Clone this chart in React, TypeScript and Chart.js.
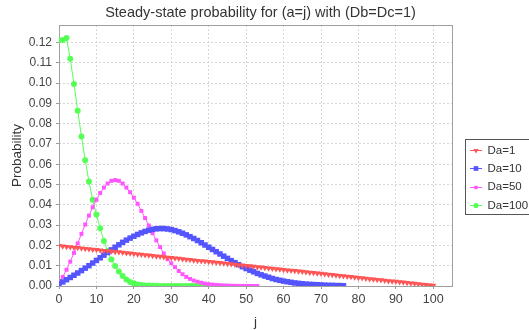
import React, { useEffect, useRef } from "react";
import { Chart, registerables } from "chart.js";

Chart.register(...registerables);

const TITLE = "Steady-state probability for (a=j) with (Db=Dc=1)";
const X_LABEL = "j";
const Y_LABEL = "Probability";
const SERIES_LABELS = ["Da=1", "Da=10", "Da=50", "Da=100"];
const SERIES_COLORS = ["#ff5555", "#5555ff", "#ff55ff", "#55ff55"];
const X_TICKS = [0, 10, 20, 30, 40, 50, 60, 70, 80, 90, 100];
const Y_TICKS = [0, 0.01, 0.02, 0.03, 0.04, 0.05, 0.06, 0.07, 0.08, 0.09, 0.1, 0.11, 0.12];

// Da=1 (j = 0..100)
const da1 = [
  0.0198, 0.0196, 0.0194, 0.0192, 0.019, 0.0188, 0.0186, 0.0184, 0.0182, 0.018,
  0.0178, 0.0176, 0.0174, 0.0173, 0.0171, 0.0169, 0.0167, 0.0165, 0.0163, 0.0161,
  0.0159, 0.0157, 0.0155, 0.0153, 0.0151, 0.0149, 0.0147, 0.0145, 0.0143, 0.0141,
  0.0139, 0.0137, 0.0135, 0.0133, 0.0131, 0.0129, 0.0127, 0.0125, 0.0123, 0.0122,
  0.012, 0.0118, 0.0116, 0.0114, 0.0112, 0.011, 0.0108, 0.0106, 0.0104, 0.0102,
  0.01, 0.0098, 0.0096, 0.0094, 0.0092, 0.009, 0.0088, 0.0086, 0.0084, 0.0082,
  0.008, 0.0078, 0.0076, 0.0075, 0.0073, 0.0071, 0.0069, 0.0067, 0.0065, 0.0063,
  0.0061, 0.0059, 0.0057, 0.0055, 0.0053, 0.0051, 0.0049, 0.0047, 0.0045, 0.0043,
  0.0041, 0.0039, 0.0037, 0.0035, 0.0033, 0.0031, 0.0029, 0.0027, 0.0025, 0.0024,
  0.0022, 0.002, 0.0018, 0.0016, 0.0014, 0.0012, 0.001, 0.0008, 0.0006, 0.0004,
  0.0002,
];

// Da=10 (j = 0..76)
const da10 = [
  0.001, 0.002, 0.0031, 0.0042, 0.0053, 0.0064, 0.0076, 0.0088, 0.01, 0.0113,
  0.0126, 0.0139, 0.0152, 0.0165, 0.0178, 0.0191, 0.0203, 0.0215, 0.0226, 0.0236,
  0.0245, 0.0254, 0.0262, 0.0269, 0.0275, 0.0279, 0.0282, 0.0283, 0.0283, 0.0281,
  0.0278, 0.0273, 0.0267, 0.026, 0.0252, 0.0243, 0.0234, 0.0224, 0.0213, 0.0202,
  0.0191, 0.018, 0.0169, 0.0158, 0.0147, 0.0136, 0.0125, 0.0115, 0.0105, 0.0095,
  0.0086, 0.0078, 0.007, 0.0062, 0.0055, 0.0049, 0.0043, 0.0037, 0.0032, 0.0028,
  0.0024, 0.0021, 0.0018, 0.0015, 0.0013, 0.0011, 0.0009, 0.0008, 0.0007, 0.0006,
  0.0005, 0.0004, 0.0003, 0.0003, 0.0002, 0.0002, 0.0001,
];

// Da=50 (j = 0..53)
const da50 = [
  0.002, 0.0045, 0.008, 0.012, 0.0163, 0.021, 0.0257, 0.0303, 0.0347, 0.0388,
  0.0425, 0.0458, 0.0485, 0.0505, 0.0518, 0.0522, 0.0518, 0.0505, 0.0485, 0.0462,
  0.0435, 0.0405, 0.037, 0.0335, 0.0298, 0.026, 0.0225, 0.0192, 0.016, 0.0132,
  0.0112, 0.0093, 0.0074, 0.0058, 0.0045, 0.0035, 0.0027, 0.0021, 0.0016, 0.0012,
  0.0009, 0.0007, 0.0005, 0.0004, 0.0003, 0.0002, 0.00015, 0.0001, 0.00008, 0.00006,
  0.00004, 0.00003, 0.00002, 0.00001,
];

// Da=100 (j = 0..39)
const da100 = [
  0.1212, 0.1212, 0.1222, 0.112, 0.0995, 0.0863, 0.0737, 0.062, 0.0515, 0.0425,
  0.0352, 0.0284, 0.0222, 0.0172, 0.013, 0.0098, 0.0071, 0.0049, 0.0032, 0.002,
  0.0013, 0.0008, 0.0005, 0.0003, 0.0002, 0.00012, 0.00008, 0.00005, 0.00003, 0.00002,
  0.00001, 0.00001, 0.00001, 0.00001, 0.00001, 0.00001, 0.00001, 0.00001, 0.00001, 0.00001,
];

const SERIES = [da1, da10, da50, da100];
const POINT_STYLES: any[] = ["triangle", "rect", "rect", "circle"];
const POINT_RADII = [3.5, 3.9, 2.8, 3];
const POINT_ROT = [180, 0, 0, 0];

const FONT = "'Liberation Sans', Arial, sans-serif";

function drawMarker(ctx: CanvasRenderingContext2D, style: string, x: number, y: number, r: number, rot: number) {
  ctx.beginPath();
  if (style === "circle") {
    ctx.arc(x, y, r, 0, Math.PI * 2);
  } else if (style === "rect") {
    const s = Math.SQRT1_2 * r;
    ctx.rect(x - s, y - s, 2 * s, 2 * s);
  } else if (style === "triangle") {
    const rad = (rot * Math.PI) / 180;
    for (let k = 0; k < 3; k++) {
      const ang = rad - Math.PI / 2 + (k * 2 * Math.PI) / 3;
      const px = x + Math.cos(ang) * r;
      const py = y + Math.sin(ang) * r;
      if (k === 0) ctx.moveTo(px, py);
      else ctx.lineTo(px, py);
    }
    ctx.closePath();
  }
  ctx.fill();
}

const framePlugin = {
  id: "frame",
  beforeDatasetsDraw(chart: any) {
    const { ctx, chartArea: a } = chart;
    ctx.save();
    ctx.strokeStyle = "#a0a0a0";
    ctx.lineWidth = 1;
    ctx.setLineDash([]);
    ctx.strokeRect(Math.round(a.left) + 0.5, Math.round(a.top) + 0.5, Math.round(a.right - a.left), Math.round(a.bottom - a.top));
    ctx.restore();
  },
};

const titleLegendPlugin = {
  id: "titleLegend",
  afterDraw(chart: any) {
    const { ctx } = chart;
    ctx.save();
    ctx.fillStyle = "#333";
    ctx.font = `14.5px ${FONT}`;
    ctx.textAlign = "center";
    ctx.textBaseline = "middle";
    ctx.fillText(TITLE, 260.5, 12.5);

    const bx = 465.5, by = 139.5, bw = 80, bh = 75;
    ctx.fillStyle = "#fff";
    ctx.fillRect(bx, by, bw, bh);
    ctx.strokeStyle = "#555";
    ctx.lineWidth = 1;
    ctx.strokeRect(bx, by, bw, bh);
    ctx.font = `11.5px ${FONT}`;
    ctx.textAlign = "left";
    chart.data.datasets.forEach((ds: any, i: number) => {
      const y = 150 + i * 18.3;
      const yy = Math.round(y) + 0.5;
      ctx.strokeStyle = ds.borderColor;
      ctx.beginPath();
      ctx.moveTo(470, yy);
      ctx.lineTo(482, yy);
      ctx.stroke();
      ctx.fillStyle = ds.backgroundColor;
      drawMarker(ctx, ds.pointStyle, 476, yy, ds.pointRadius * 0.85, ds.pointRotation);
      ctx.fillStyle = "#333";
      ctx.fillText(ds.label, 487.5, y + 0.5);
    });
    ctx.restore();
  },
};

export default function App() {
  const ref = useRef<HTMLCanvasElement | null>(null);
  useEffect(() => {
    if (!ref.current) return;
    const chart = new Chart(ref.current, {
      type: "line",
      data: {
        datasets: SERIES.map((vals, i) => ({
          label: SERIES_LABELS[i],
          data: vals.map((v, j) => ({ x: j, y: v })),
          borderColor: SERIES_COLORS[i],
          backgroundColor: SERIES_COLORS[i],
          borderWidth: 1,
          pointStyle: POINT_STYLES[i],
          pointRadius: POINT_RADII[i],
          pointRotation: POINT_ROT[i],
          pointBorderWidth: 0,
          pointBackgroundColor: SERIES_COLORS[i],
          tension: 0,
          fill: false,
        })),
      },
      options: {
        animation: false,
        responsive: false,
        devicePixelRatio: 1,
        layout: { padding: { left: 0, top: 25, right: 77, bottom: 0 } },
        plugins: {
          legend: { display: false },
          title: { display: false },
          tooltip: { enabled: false },
        },
        scales: {
          x: {
            type: "linear",
            min: 0,
            max: 105,
            afterBuildTicks: (s: any) => {
              s.ticks = X_TICKS.map((v) => ({ value: v }));
            },
            afterFit: (s: any) => {
              s.height = 44;
            },
            ticks: {
              color: "#444",
              font: { family: FONT, size: 12.5 },
              padding: 3,
              maxRotation: 0,
              autoSkip: false,
              callback: (v: any) => String(v),
            },
            grid: {
              color: "#d6d6d6",
              lineWidth: 1,
              drawTicks: true,
              tickLength: 3,
              tickColor: "#999",
            },
            border: { display: false, dash: [2, 2] },
            title: {
              display: true,
              text: X_LABEL,
              color: "#333",
              font: { family: FONT, size: 13.5 },
              padding: { top: 9, bottom: 0 },
            },
          },
          y: {
            type: "linear",
            min: 0,
            max: 0.1286,
            afterBuildTicks: (s: any) => {
              s.ticks = Y_TICKS.map((v) => ({ value: v }));
            },
            afterFit: (s: any) => {
              s.width = 59;
            },
            ticks: {
              color: "#444",
              font: { family: FONT, size: 12 },
              padding: 4,
              autoSkip: false,
              callback: (v: any) => Number(v).toFixed(2),
            },
            grid: {
              color: "#d6d6d6",
              lineWidth: 1,
              drawTicks: true,
              tickLength: 3,
              tickColor: "#999",
            },
            border: { display: false, dash: [2, 2] },
            title: {
              display: true,
              text: Y_LABEL,
              color: "#333",
              font: { family: FONT, size: 13.5 },
              padding: { top: 9, bottom: 0 },
            },
          },
        },
      },
      plugins: [framePlugin, titleLegendPlugin],
    } as any);
    return () => chart.destroy();
  }, []);
  return (
    <div style={{ position: "absolute", left: 0, top: 0, width: 529, height: 330, background: "#fff" }}>
      <canvas ref={ref} width={529} height={330} style={{ display: "block", width: 529, height: 330 }} />
    </div>
  );
}
